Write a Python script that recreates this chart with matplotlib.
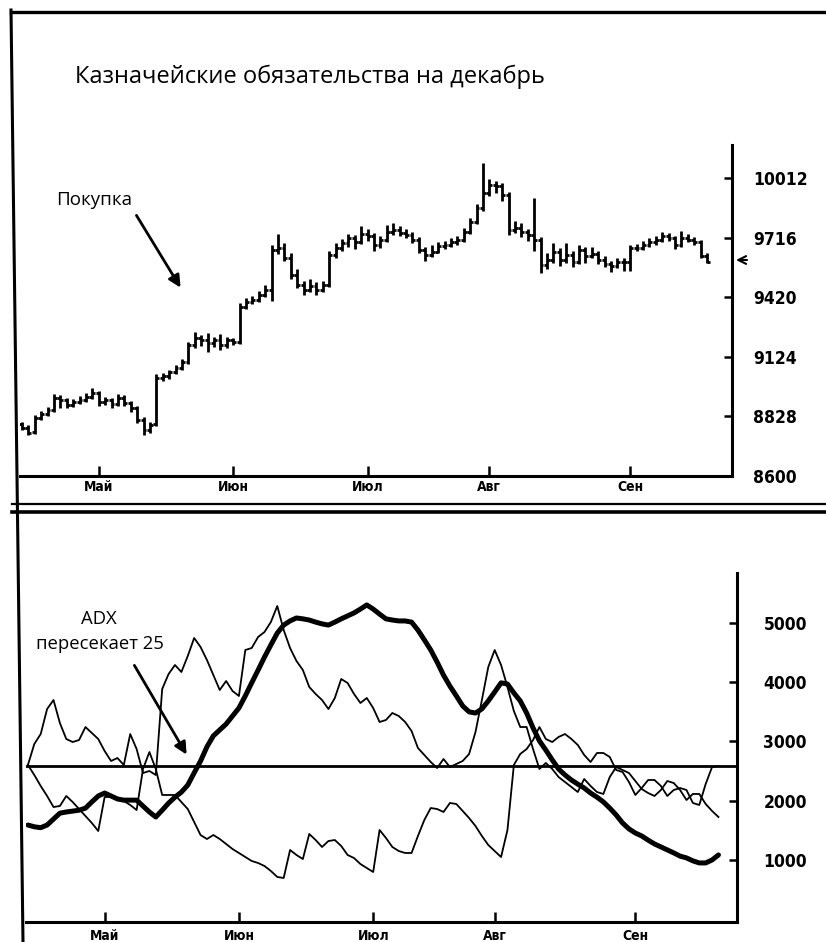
import numpy as np
import matplotlib.pyplot as plt
from matplotlib.lines import Line2D

plt.rcParams["font.family"] = ["Open Sans", "DejaVu Sans"]
narrow = ["Liberation Sans Narrow", "DejaVu Sans"]

# ---- data ----
title = "Казначейские обязательства на декабрь"
months = ["Май", "Июн", "Июл", "Авг", "Сен"]
month_pos = [12, 33, 54, 73, 95]  # trading-day index of month start

# daily bars, mid-April .. mid-September
opens = [
    8790, 8772, 8750, 8822, 8841, 8861, 8921, 8911, 8886, 8901, 8911, 8926,
    8946, 8901, 8911, 8891, 8921, 8896, 8871, 8812, 8762, 8790, 9020, 9030,
    9050, 9070, 9100, 9184, 9219, 9209, 9194, 9209, 9184, 9209, 9199, 9373,
    9398, 9408, 9433, 9458, 9657, 9667, 9617, 9532, 9483, 9458, 9478, 9458,
    9483, 9632, 9667, 9691, 9716, 9696, 9736, 9726, 9681, 9706, 9746, 9756,
    9741, 9731, 9706, 9657, 9632, 9647, 9677, 9681, 9696, 9706, 9746, 9796,
    9865, 9940, 9980, 9975, 9930, 9756, 9766, 9746, 9731, 9706, 9582, 9607,
    9647, 9607, 9632, 9597, 9657, 9627, 9637, 9607, 9587, 9577, 9597, 9597,
    9667, 9667, 9681, 9696, 9706, 9726, 9716, 9681, 9716, 9706, 9696, 9627,
]
highs = [
    8800, 8785, 8835, 8855, 8875, 8940, 8935, 8920, 8915, 8930, 8945, 8970,
    8955, 8925, 8920, 8940, 8935, 8905, 8880, 8825, 8800, 9040, 9045, 9060,
    9085, 9115, 9200, 9250, 9235, 9245, 9225, 9240, 9225, 9220, 9390, 9415,
    9425, 9450, 9480, 9680, 9735, 9690, 9640, 9560, 9500, 9510, 9495, 9500,
    9650, 9690, 9710, 9735, 9730, 9775, 9760, 9740, 9725, 9780, 9790, 9775,
    9760, 9745, 9720, 9670, 9680, 9695, 9700, 9715, 9725, 9765, 9815, 9885,
    10090, 10010, 10000, 9990, 9945, 9800, 9790, 9760, 9915, 9720, 9640, 9690,
    9665, 9690, 9650, 9680, 9670, 9670, 9650, 9625, 9600, 9615, 9615, 9680,
    9685, 9700, 9715, 9725, 9745, 9740, 9725, 9750, 9735, 9720, 9705, 9640,
]
lows = [
    8760, 8735, 8740, 8810, 8830, 8850, 8870, 8870, 8875, 8890, 8900, 8915,
    8880, 8885, 8870, 8880, 8880, 8850, 8795, 8735, 8745, 8780, 9005, 9015,
    9040, 9060, 9090, 9170, 9180, 9150, 9175, 9160, 9170, 9185, 9190, 9360,
    9385, 9395, 9420, 9400, 9635, 9600, 9510, 9465, 9430, 9445, 9430, 9445,
    9470, 9615, 9650, 9670, 9660, 9685, 9700, 9650, 9665, 9695, 9730, 9725,
    9715, 9690, 9640, 9600, 9620, 9640, 9660, 9670, 9680, 9695, 9735, 9785,
    9850, 9925, 9940, 9900, 9730, 9740, 9720, 9700, 9650, 9540, 9560, 9590,
    9575, 9590, 9570, 9585, 9590, 9615, 9585, 9570, 9545, 9565, 9550, 9550,
    9650, 9655, 9670, 9680, 9695, 9700, 9660, 9670, 9695, 9680, 9615, 9590,
]
closes = [
    8772, 8747, 8822, 8841, 8861, 8921, 8911, 8886, 8901, 8911, 8926, 8946,
    8901, 8911, 8891, 8921, 8896, 8871, 8812, 8762, 8787, 9020, 9030, 9050,
    9070, 9100, 9184, 9219, 9209, 9194, 9209, 9184, 9209, 9199, 9373, 9398,
    9408, 9433, 9458, 9657, 9667, 9617, 9532, 9483, 9458, 9478, 9458, 9483,
    9632, 9667, 9691, 9716, 9696, 9736, 9726, 9681, 9706, 9746, 9756, 9741,
    9731, 9706, 9657, 9632, 9647, 9677, 9681, 9696, 9706, 9746, 9796, 9865,
    9940, 9980, 9975, 9930, 9756, 9766, 9746, 9731, 9706, 9582, 9607, 9647,
    9607, 9632, 9597, 9657, 9627, 9637, 9607, 9587, 9577, 9597, 9597, 9667,
    9667, 9681, 9696, 9706, 9726, 9716, 9681, 9716, 9706, 9696, 9627, 9597,
]
price_ticks = [8532, 8828, 9124, 9420, 9716, 10012]
price_labels = ["8600", "8828", "9124", "9420", "9716", "10012"]

adx = [
    1590, 1560, 1545, 1590, 1690, 1790, 1810, 1825, 1840, 1875, 1980, 2080,
    2130, 2080, 2030, 2010, 2010, 2010, 1910, 1810, 1725, 1840, 1960, 2060,
    2145, 2265, 2470, 2670, 2910, 3095, 3195, 3295, 3430, 3565, 3770, 3990,
    4205, 4425, 4630, 4830, 4965, 5035, 5085, 5070, 5050, 5015, 4985, 4965,
    5015, 5070, 5120, 5170, 5235, 5305, 5235, 5150, 5070, 5050, 5035, 5035,
    5015, 4880, 4715, 4545, 4340, 4120, 3935, 3770, 3600, 3500, 3480, 3550,
    3685, 3835, 3990, 3970, 3820, 3685, 3480, 3230, 3010, 2855, 2690, 2535,
    2435, 2350, 2280, 2215, 2130, 2060, 1980, 1875, 1760, 1625, 1525, 1455,
    1405, 1335, 1270, 1220, 1170, 1120, 1065, 1035, 985, 950, 950, 1000, 1085,
]
di_plus = [
    2603, 2958, 3126, 3548, 3700, 3312, 3042, 2991, 3025, 3244, 3143, 3042,
    2839, 2671, 2721, 2603, 3126, 2873, 2468, 2502, 2434, 3886, 4139, 4291,
    4173, 4443, 4747, 4595, 4375, 4122, 3869, 4021, 3852, 3768, 4544, 4578,
    4764, 4848, 5017, 5287, 4882, 4578, 4359, 4207, 3920, 3802, 3700, 3548,
    3734, 4055, 3987, 3802, 3650, 3734, 3565, 3329, 3363, 3481, 3430, 3329,
    3177, 2890, 2772, 2654, 2552, 2704, 2569, 2620, 2671, 2789, 3160, 3700,
    4257, 4544, 4291, 3920, 3515, 3244, 3244, 2873, 2536, 2637, 2536, 2400,
    2316, 2232, 2147, 2367, 2249, 2147, 2114, 2400, 2569, 2519, 2468, 2333,
    2198, 2130, 2080, 2181, 2333, 2299, 2181, 2012, 2114, 2114, 1945, 1827, 1725,
]
di_minus = [
    2603, 2434, 2249, 2080, 1894, 1911, 2080, 1978, 1860, 1742, 1624, 1489,
    2063, 2063, 2046, 1995, 1928, 1843, 2536, 2822, 2536, 2097, 2097, 2097,
    1978, 1860, 1641, 1421, 1354, 1421, 1354, 1270, 1185, 1118, 1050, 983,
    949, 898, 814, 713, 696, 1168, 1084, 1016, 1438, 1337, 1219, 1320,
    1337, 1236, 1084, 1033, 932, 864, 797, 1506, 1371, 1219, 1151, 1118,
    1118, 1405, 1675, 1877, 1860, 1810, 1962, 1945, 1827, 1708, 1573, 1405,
    1253, 1151, 1050, 1506, 2603, 2789, 2873, 3025, 3244, 3042, 2991, 3076,
    3126, 3042, 2941, 2772, 2654, 2806, 2806, 2738, 2519, 2485, 2316, 2097,
    2215, 2350, 2350, 2249, 2080, 2181, 2215, 2181, 1962, 1928, 2282, 2569, 2586,
]
adx_level = 2580
ind_ticks = [1000, 2000, 3000, 4000, 5000]

# ---- layout (pixel boxes) ----
W, H = 826, 942
fig = plt.figure(figsize=(W / 100, H / 100), dpi=100)


def box(l, t, r, b):
    return [l / W, 1 - b / H, (r - l) / W, (b - t) / H]


def fig_line(x0, y0, x1, y1, lw):
    fig.add_artist(Line2D([x0 / W, x1 / W], [1 - y0 / H, 1 - y1 / H],
                          transform=fig.transFigure, color="black", lw=lw))


ax1 = fig.add_axes(box(20, 145, 732, 476))
ax2 = fig.add_axes(box(26, 573, 737, 922))

tick_font = dict(fontfamily=narrow, fontweight="bold", fontstretch="condensed")

# price bars
days = np.arange(len(closes))
ax1.vlines(days, lows, highs, color="black", lw=2)
ax1.hlines(opens, days - 0.45, days, color="black", lw=2)
ax1.hlines(closes, days, days + 0.45, color="black", lw=2)
ax1.set_ylim(8532, 10178)
ax1.set_yticks(price_ticks, price_labels, fontsize=12.5, **tick_font)

# indicator lines
t = np.arange(len(adx))
ax2.plot(t, di_plus, color="black", lw=1.3)
ax2.plot(t, di_minus, color="black", lw=1.3)
ax2.plot(t, adx, color="black", lw=3.6, solid_capstyle="round")
ax2.axhline(adx_level, color="black", lw=2)
ax2.set_ylim(-47, 5844)
ax2.set_yticks(ind_ticks, [str(v) for v in ind_ticks], fontsize=12.5,
               **tick_font)

for ax, pad, xpad in [(ax1, 15, 3), (ax2, 19, 5)]:
    ax.set_xlim(-0.3, 110.9)
    ax.set_xticks(month_pos, months, fontsize=10, **tick_font)
    for s in ["left", "top"]:
        ax.spines[s].set_visible(False)
    for s in ["right", "bottom"]:
        ax.spines[s].set_linewidth(2.2)
    ax.yaxis.tick_right()
    ax.tick_params(axis="y", direction="in", length=6, width=1.8, pad=pad)
    ax.tick_params(axis="x", direction="in", length=7, width=1.8, pad=xpad)
    ax.patch.set_alpha(0)

# frame lines of the page
fig_line(11, 12, 826, 12, 2.4)
fig_line(11, 10, 23, 942, 2.2)
fig_line(12, 504, 826, 504, 1.6)
fig_line(12, 512, 826, 512, 2.6)

# texts and arrows
fig.text(75 / W, 1 - 77 / H, title, fontsize=17, va="center", ha="left")
fig.text(56 / W, 1 - 200 / H, "Покупка", fontsize=13.5, va="center")
fig.text(99 / W, 1 - 619 / H, "ADX", fontsize=13.3, va="center", ha="center")
fig.text(100 / W, 1 - 644 / H, "пересекает 25", fontsize=13.3,
         va="center", ha="center")

arrow = dict(arrowstyle="-|>", color="black", lw=2, mutation_scale=18)
ax1.annotate("", xy=(182, H - 290), xytext=(135, H - 213),
             xycoords="figure pixels", textcoords="figure pixels",
             arrowprops=arrow)
ax2.annotate("", xy=(188, H - 757), xytext=(133, H - 663),
             xycoords="figure pixels", textcoords="figure pixels",
             arrowprops=arrow)
ax1.annotate("", xy=(736, H - 260), xytext=(747, H - 260),
             xycoords="figure pixels", textcoords="figure pixels",
             arrowprops=dict(arrowstyle="->", color="black", lw=1.5,
                             mutation_scale=14, shrinkA=0, shrinkB=0),
             annotation_clip=False)

fig.savefig("out.png", dpi=100)
